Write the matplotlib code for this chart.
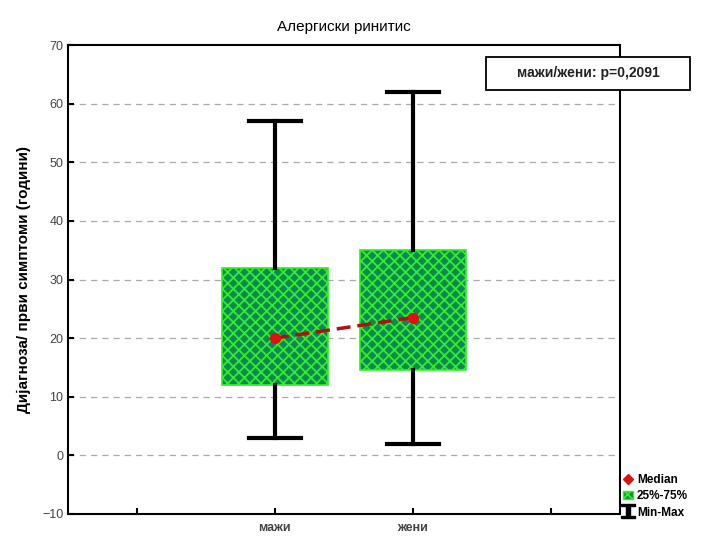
import matplotlib.pyplot as plt
from matplotlib.lines import Line2D
from matplotlib.patches import Patch, Rectangle
from matplotlib.path import Path

plt.rcParams['font.family'] = ['Liberation Sans', 'DejaVu Sans']
plt.rcParams['hatch.linewidth'] = 1.3

# Податоци по пол
groups = ['мажи', 'жени']
positions = [2, 3]
mins = [3, 2]
q1 = [12, 14.6]
medians = [20, 23.5]
q3 = [32, 35]
maxs = [57, 62]
p_text = 'мажи/жени: p=0,2091'

stats = []
for i, g in enumerate(groups):
    stats.append({'label': g, 'whislo': mins[i], 'q1': q1[i], 'med': medians[i],
                  'q3': q3[i], 'whishi': maxs[i]})

box_face = '#0b8858'
box_edge = '#33ee22'

fig = plt.figure(figsize=(7.09, 5.37), dpi=100)
ax = fig.add_axes([0.096, 0.043, 0.778, 0.873])

bp = ax.bxp(stats, positions=positions, widths=0.77, patch_artist=True,
            showfliers=False,
            boxprops=dict(facecolor=box_face, edgecolor=box_edge, linewidth=1.2),
            whiskerprops=dict(color='black', linewidth=3),
            capprops=dict(color='black', linewidth=3),
            medianprops=dict(linewidth=0),
            capwidths=0.38, zorder=3)
for box in bp['boxes']:
    box.set_hatch('///\\\\\\')

ax.plot(positions, medians, color='#b01010', linestyle=(0, (4, 2)), linewidth=2.5,
        marker='o', markersize=7, markerfacecolor='#e01010', markeredgecolor='#e01010',
        zorder=5)

ax.set_xlim(0.5, 4.5)
ax.set_ylim(-10, 70)
ax.set_xticks([1, 2, 3, 4])
ax.set_xticklabels(['', groups[0], groups[1], ''], fontweight='bold', color='#333333')
ax.set_yticks(range(-10, 71, 10))
ax.tick_params(axis='both', direction='in', length=4, width=1.5, labelsize=9,
               labelcolor='#444444')
ax.tick_params(axis='x', pad=6)
for s in ax.spines.values():
    s.set_linewidth(1.5)

for y in range(0, 61, 10):
    ax.axhline(y, color='#aaaaaa', linestyle=(0, (5, 4)), linewidth=0.9, zorder=1)

ax.set_title('Алергиски ринитис', fontsize=11, pad=10)
ax.set_ylabel('Дијагноза/ први симптоми (години)', fontsize=11, fontweight='bold',
              labelpad=8)

# рамка со p-вредноста
fig.add_artist(Rectangle((486 / 709, 1 - 90 / 537), 204 / 709, 33 / 537,
                         transform=fig.transFigure, facecolor='white',
                         edgecolor='black', linewidth=1.3, zorder=10))
fig.text(588 / 709, 1 - 73.5 / 537, p_text, fontsize=10, fontweight='bold',
         color='#222222', ha='center', va='center', zorder=11)

# маркер во форма на I (опсег мин-макс)
ibeam = Path([(-1, -1), (1, -1), (1, -0.7), (0.25, -0.7), (0.25, 0.7), (1, 0.7),
              (1, 1), (-1, 1), (-1, 0.7), (-0.25, 0.7), (-0.25, -0.7), (-1, -0.7),
              (-1, -1)])

handles = [
    Line2D([], [], marker='D', color='none', markerfacecolor='#e01010',
           markeredgecolor='#e01010', markersize=5),
    Patch(facecolor=box_face, edgecolor=box_edge, hatch='///\\\\\\'),
    Line2D([], [], marker=ibeam, color='none', markerfacecolor='black',
           markeredgecolor='black', markersize=10),
]
fig.legend(handles, ['Median', '25%-75%', 'Min-Max'], loc='lower left',
           bbox_to_anchor=(0.875, 0.03), frameon=False,
           prop={'weight': 'bold', 'size': 8.5}, handlelength=0.9, handletextpad=0.3,
           labelspacing=0.35, borderaxespad=0, borderpad=0.2)

fig.savefig('out.png', dpi=100)
